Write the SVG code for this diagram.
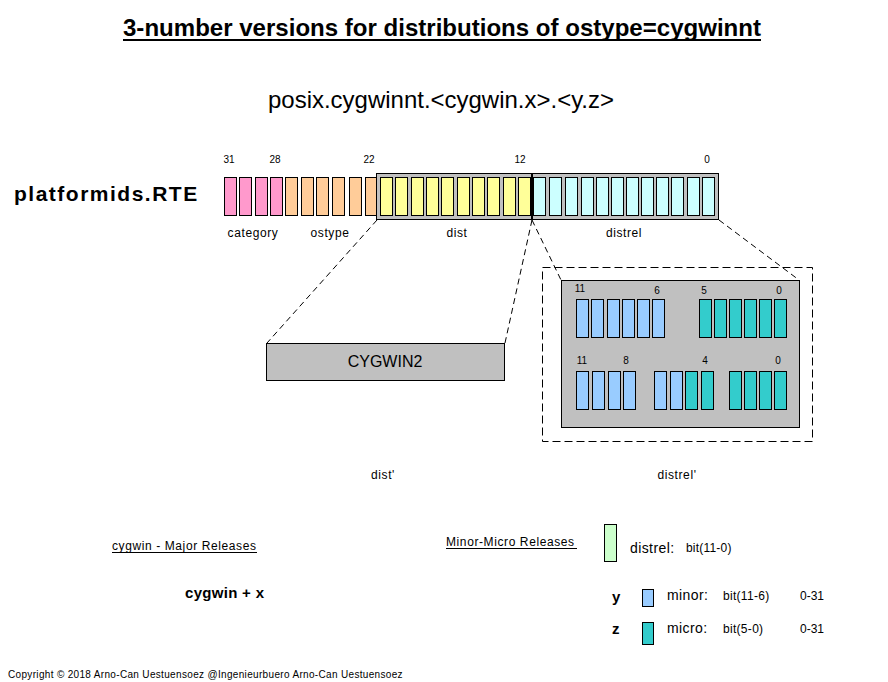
<svg xmlns="http://www.w3.org/2000/svg" width="888" height="682" viewBox="0 0 888 682">
<style>
text{font-family:"Liberation Sans",Arial,sans-serif;fill:#000}
.t{font-size:24px;font-weight:bold}
.f{font-size:24px}
.n{font-size:10px}
.l{font-size:12px;letter-spacing:0.6px}
.s{font-size:14px;letter-spacing:0.4px}
.b{stroke:#000;stroke-width:1}
.pk{fill:#FF99CC}.or{fill:#FFCC99}.ye{fill:#FFFF99}.cy{fill:#CCFFFF}.bl{fill:#99CCFF}.te{fill:#33CCCC}.gr{fill:#C0C0C0}.gn{fill:#CCFFCC}
.d{fill:none;stroke:#000;stroke-width:1;stroke-dasharray:6 4}
</style>
<rect width="888" height="682" fill="#fff"/>
<g id="title">
<text class="t" x="442" y="36" text-anchor="middle" textLength="638" lengthAdjust="spacingAndGlyphs">3-number versions for distributions of ostype=cygwinnt</text>
<line x1="123" y1="40" x2="761" y2="40" stroke="#000" stroke-width="2"/>
</g>
<g id="formula"><text class="f" x="441" y="108" text-anchor="middle" textLength="346" lengthAdjust="spacingAndGlyphs">posix.cygwinnt.&lt;cygwin.x&gt;.&lt;y.z&gt;</text></g>
<g id="label-rte"><text x="14" y="201" style="font-size:21px;font-weight:bold;letter-spacing:1.5px">platformids.RTE</text></g>
<g id="bit-numbers">
<text class="n" x="229" y="163" text-anchor="middle">31</text>
<text class="n" x="275" y="163" text-anchor="middle">28</text>
<text class="n" x="369" y="163" text-anchor="middle">22</text>
<text class="n" x="520" y="163" text-anchor="middle">12</text>
<text class="n" x="707" y="163" text-anchor="middle">0</text>
</g>
<g id="dist-box"><rect class="b gr" x="376.5" y="173.5" width="155" height="46"/></g>
<g id="distrel-box"><rect class="b gr" x="532.5" y="173.5" width="186" height="46"/></g>
<g id="category">
<rect class="b pk" x="224.5" y="177.5" width="12" height="38"/>
<rect class="b pk" x="239.5" y="177.5" width="12" height="38"/>
<rect class="b pk" x="255.5" y="177.5" width="12" height="38"/>
<rect class="b pk" x="270.5" y="177.5" width="12" height="38"/>
</g>
<g id="ostype">
<rect class="b or" x="285.5" y="177.5" width="12" height="38"/>
<rect class="b or" x="301.5" y="177.5" width="12" height="38"/>
<rect class="b or" x="316.5" y="177.5" width="12" height="38"/>
<rect class="b or" x="332.5" y="177.5" width="12" height="38"/>
<rect class="b or" x="349.5" y="177.5" width="12" height="38"/>
<rect class="b or" x="365.5" y="177.5" width="11" height="38"/>
</g>
<g id="dist">
<rect class="b ye" x="380.5" y="177.5" width="12" height="38"/>
<rect class="b ye" x="395.5" y="177.5" width="12" height="38"/>
<rect class="b ye" x="411.5" y="177.5" width="12" height="38"/>
<rect class="b ye" x="426.5" y="177.5" width="12" height="38"/>
<rect class="b ye" x="441.5" y="177.5" width="12" height="38"/>
<rect class="b ye" x="457.5" y="177.5" width="12" height="38"/>
<rect class="b ye" x="472.5" y="177.5" width="12" height="38"/>
<rect class="b ye" x="487.5" y="177.5" width="12" height="38"/>
<rect class="b ye" x="503.5" y="177.5" width="12" height="38"/>
<rect class="b ye" x="518.5" y="177.5" width="12" height="38"/>
</g>
<g id="distrel">
<rect class="b cy" x="533.5" y="177.5" width="12" height="38"/>
<rect class="b cy" x="549.5" y="177.5" width="12" height="38"/>
<rect class="b cy" x="565.5" y="177.5" width="12" height="38"/>
<rect class="b cy" x="581.5" y="177.5" width="12" height="38"/>
<rect class="b cy" x="596.5" y="177.5" width="12" height="38"/>
<rect class="b cy" x="611.5" y="177.5" width="12" height="38"/>
<rect class="b cy" x="626.5" y="177.5" width="12" height="38"/>
<rect class="b cy" x="641.5" y="177.5" width="12" height="38"/>
<rect class="b cy" x="656.5" y="177.5" width="12" height="38"/>
<rect class="b cy" x="671.5" y="177.5" width="12" height="38"/>
<rect class="b cy" x="687.5" y="177.5" width="12" height="38"/>
<rect class="b cy" x="702.5" y="177.5" width="12" height="38"/>
</g>
<line x1="531.5" y1="173" x2="531.5" y2="220" stroke="#000" stroke-width="1"/>
<g id="field-labels">
<text class="l" x="253" y="237" text-anchor="middle">category</text>
<text class="l" x="330" y="237" text-anchor="middle">ostype</text>
<text class="l" x="457" y="237" text-anchor="middle">dist</text>
<text class="l" x="624" y="237" text-anchor="middle">distrel</text>
</g>
<g id="connectors">
<line class="d" x1="377" y1="220" x2="267" y2="343"/>
<line class="d" x1="532" y1="220" x2="505" y2="343"/>
<line class="d" x1="532" y1="220" x2="561" y2="280"/>
<line class="d" x1="719" y1="220" x2="799" y2="280"/>
</g>
<g id="cygwin2">
<rect class="b gr" x="266.5" y="343.5" width="238" height="37"/>
<text x="385" y="367" text-anchor="middle" style="font-size:16px">CYGWIN2</text>
</g>
<g id="distrel-expanded">
<rect x="542.5" y="267.5" width="270" height="174" fill="none" stroke="#000" stroke-dasharray="8 4"/>
<rect class="b gr" x="561.5" y="280.5" width="238" height="147"/>
<text class="n" x="580" y="292" text-anchor="middle">11</text>
<text class="n" x="657" y="294" text-anchor="middle">6</text>
<text class="n" x="704" y="294" text-anchor="middle">5</text>
<text class="n" x="779" y="294" text-anchor="middle">0</text>
<rect class="b bl" x="576.5" y="299.5" width="12" height="38"/>
<rect class="b bl" x="591.5" y="299.5" width="12" height="38"/>
<rect class="b bl" x="607.5" y="299.5" width="12" height="38"/>
<rect class="b bl" x="622.5" y="299.5" width="12" height="38"/>
<rect class="b bl" x="637.5" y="299.5" width="12" height="38"/>
<rect class="b bl" x="652.5" y="299.5" width="12" height="38"/>
<rect class="b te" x="699.5" y="299.5" width="12" height="38"/>
<rect class="b te" x="714.5" y="299.5" width="12" height="38"/>
<rect class="b te" x="729.5" y="299.5" width="12" height="38"/>
<rect class="b te" x="744.5" y="299.5" width="12" height="38"/>
<rect class="b te" x="759.5" y="299.5" width="12" height="38"/>
<rect class="b te" x="774.5" y="299.5" width="12" height="38"/>
<text class="n" x="582" y="364" text-anchor="middle">11</text>
<text class="n" x="626" y="364" text-anchor="middle">8</text>
<text class="n" x="705" y="364" text-anchor="middle">4</text>
<text class="n" x="778" y="364" text-anchor="middle">0</text>
<rect class="b bl" x="576.5" y="371.5" width="12" height="38"/>
<rect class="b bl" x="592.5" y="371.5" width="12" height="38"/>
<rect class="b bl" x="608.5" y="371.5" width="12" height="38"/>
<rect class="b bl" x="623.5" y="371.5" width="12" height="38"/>
<rect class="b bl" x="654.5" y="371.5" width="12" height="38"/>
<rect class="b bl" x="670.5" y="371.5" width="12" height="38"/>
<rect class="b te" x="685.5" y="371.5" width="12" height="38"/>
<rect class="b te" x="701.5" y="371.5" width="12" height="38"/>
<rect class="b te" x="729.5" y="371.5" width="12" height="38"/>
<rect class="b te" x="744.5" y="371.5" width="12" height="38"/>
<rect class="b te" x="759.5" y="371.5" width="12" height="38"/>
<rect class="b te" x="774.5" y="371.5" width="12" height="38"/>
</g>
<g id="captions">
<text class="l" x="383" y="479" text-anchor="middle">dist'</text>
<text class="l" x="677" y="479" text-anchor="middle">distrel'</text>
</g>
<g id="legend-left">
<text class="l" x="112" y="550">cygwin - Major Releases</text>
<line x1="112" y1="552.5" x2="257" y2="552.5" stroke="#000"/>
<text x="185" y="598" style="font-size:15px;font-weight:bold;letter-spacing:0.3px">cygwin + x</text>
</g>
<g id="legend-right">
<text class="l" x="446" y="546">Minor-Micro Releases</text>
<line x1="446" y1="548.5" x2="577" y2="548.5" stroke="#000"/>
<rect class="b gn" x="604.5" y="524.5" width="12" height="37"/>
<text class="s" x="630" y="552.5">distrel:</text>
<text class="l" x="686" y="552" style="letter-spacing:0.2px">bit(11-0)</text>
<text x="612" y="602" style="font-size:15px;font-weight:bold">y</text>
<rect class="b bl" x="642.5" y="589.5" width="11" height="17"/>
<text class="s" x="667" y="600">minor:</text>
<text class="l" x="723" y="600" style="letter-spacing:0.3px">bit(11-6)</text>
<text class="l" x="800" y="600" style="letter-spacing:0">0-31</text>
<text x="612" y="634" style="font-size:15px;font-weight:bold">z</text>
<rect class="b te" x="642.5" y="622.5" width="11" height="22"/>
<text class="s" x="667" y="633">micro:</text>
<text class="l" x="723" y="633" style="letter-spacing:0.3px">bit(5-0)</text>
<text class="l" x="800" y="633" style="letter-spacing:0">0-31</text>
</g>
<g id="copyright"><text x="8" y="678" style="font-size:10px;letter-spacing:0.33px">Copyright © 2018 Arno-Can Uestuensoez @Ingenieurbuero Arno-Can Uestuensoez</text></g>
</svg>
